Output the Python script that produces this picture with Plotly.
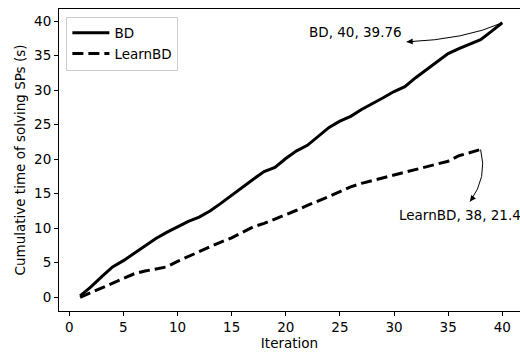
import plotly.graph_objects as go

iterations_bd = list(range(1, 41))
bd_time = [0.2, 1.5, 3.0, 4.4, 5.3, 6.4, 7.5, 8.5, 9.4, 10.2,
           11.0, 11.6, 12.5, 13.6, 14.8, 16.0, 17.1, 18.2, 18.8, 20.1,
           21.2, 22.0, 23.3, 24.6, 25.5, 26.2, 27.2, 28.0, 28.9, 29.8,
           30.5, 31.8, 33.0, 34.2, 35.3, 36.0, 36.6, 37.3, 38.5, 39.76]

iterations_lbd = list(range(1, 39))
learnbd_time = [0.0, 0.7, 1.4, 2.1, 2.8, 3.4, 3.8, 4.1, 4.4, 5.2,
                5.9, 6.6, 7.4, 8.0, 8.6, 9.4, 10.2, 10.7, 11.3, 12.0,
                12.6, 13.3, 13.9, 14.6, 15.3, 16.0, 16.5, 16.9, 17.3, 17.7,
                18.1, 18.4, 18.8, 19.2, 19.7, 20.5, 20.9, 21.4]

x_ticks = [0, 5, 10, 15, 20, 25, 30, 35, 40]
y_ticks = [0, 5, 10, 15, 20, 25, 30, 35, 40]

FONT = "DejaVu Sans"
FS = 13.5

fig = go.Figure()
fig.add_trace(go.Scatter(x=iterations_bd, y=bd_time, mode="lines", name="BD",
                         line=dict(color="black", width=3)))
fig.add_trace(go.Scatter(x=iterations_lbd, y=learnbd_time, mode="lines", name="LearnBD",
                         line=dict(color="black", width=3, dash="11px,5px")))


def curved_label(fig, name, xs, ys, text_off, head_off, ctrl_off):
    x0, y0 = xs[-1], ys[-1]
    hx, hy = x0 + head_off[0], y0 + head_off[1]
    cx, cy = x0 + ctrl_off[0], y0 + ctrl_off[1]
    fig.add_shape(type="path", xref="x", yref="y",
                  path=f"M {x0},{y0} Q {cx},{cy} {hx},{hy}",
                  line=dict(color="black", width=1))
    # arrowhead pointing along the tangent at the end of the curve
    tx, ty = hx + 0.15 * (cx - hx), hy + 0.15 * (cy - hy)
    fig.add_annotation(x=hx, y=hy, ax=tx, ay=ty, xref="x", yref="y",
                       axref="x", ayref="y", text="", showarrow=True,
                       arrowhead=2, arrowsize=1.2, arrowwidth=1, arrowcolor="black")
    fig.add_annotation(x=x0 + text_off[0], y=y0 + text_off[1], xref="x", yref="y",
                       text=f"{name}, {x0}, {y0}", showarrow=False,
                       xanchor="left", yanchor="middle",
                       font=dict(family=FONT, size=FS, color="black"))


curved_label(fig, "BD", iterations_bd, bd_time,
             text_off=(-18.0, -1.36), head_off=(-8.83, -2.77), ctrl_off=(-3.4, -2.41))
curved_label(fig, "LearnBD", iterations_lbd, learnbd_time,
             text_off=(-7.75, -9.47), head_off=(-0.98, -7.54), ctrl_off=(0.68, -4.03))

axis_common = dict(showgrid=False, zeroline=False, showline=True, linecolor="black",
                   linewidth=1, ticks="outside", ticklen=4, tickwidth=1, tickcolor="black",
                   tickfont=dict(family=FONT, size=FS, color="black"))

fig.update_xaxes(range=[-0.95, 41.64], tickvals=x_ticks, mirror=True,
                 title=dict(text="Iteration", font=dict(family=FONT, size=FS, color="black"),
                            standoff=3),
                 **axis_common)
fig.update_yaxes(range=[-1.99, 41.75], tickvals=y_ticks, mirror=False,
                 title=dict(text="Cumulative time of solving SPs (s)",
                            font=dict(family=FONT, size=FS, color="black"), standoff=5),
                 **axis_common)

fig.update_layout(
    width=520, height=356,
    margin=dict(l=59, r=0, t=9, b=45),
    plot_bgcolor="white", paper_bgcolor="white",
    font=dict(family=FONT, size=FS, color="black"),
    showlegend=True,
    legend=dict(x=0.016, y=0.975, xanchor="left", yanchor="top",
                bgcolor="rgba(255,255,255,0.8)", bordercolor="#cccccc", borderwidth=1,
                font=dict(family=FONT, size=FS, color="black"),
                tracegroupgap=0, itemwidth=37),
)

fig.write_html("out.html")
